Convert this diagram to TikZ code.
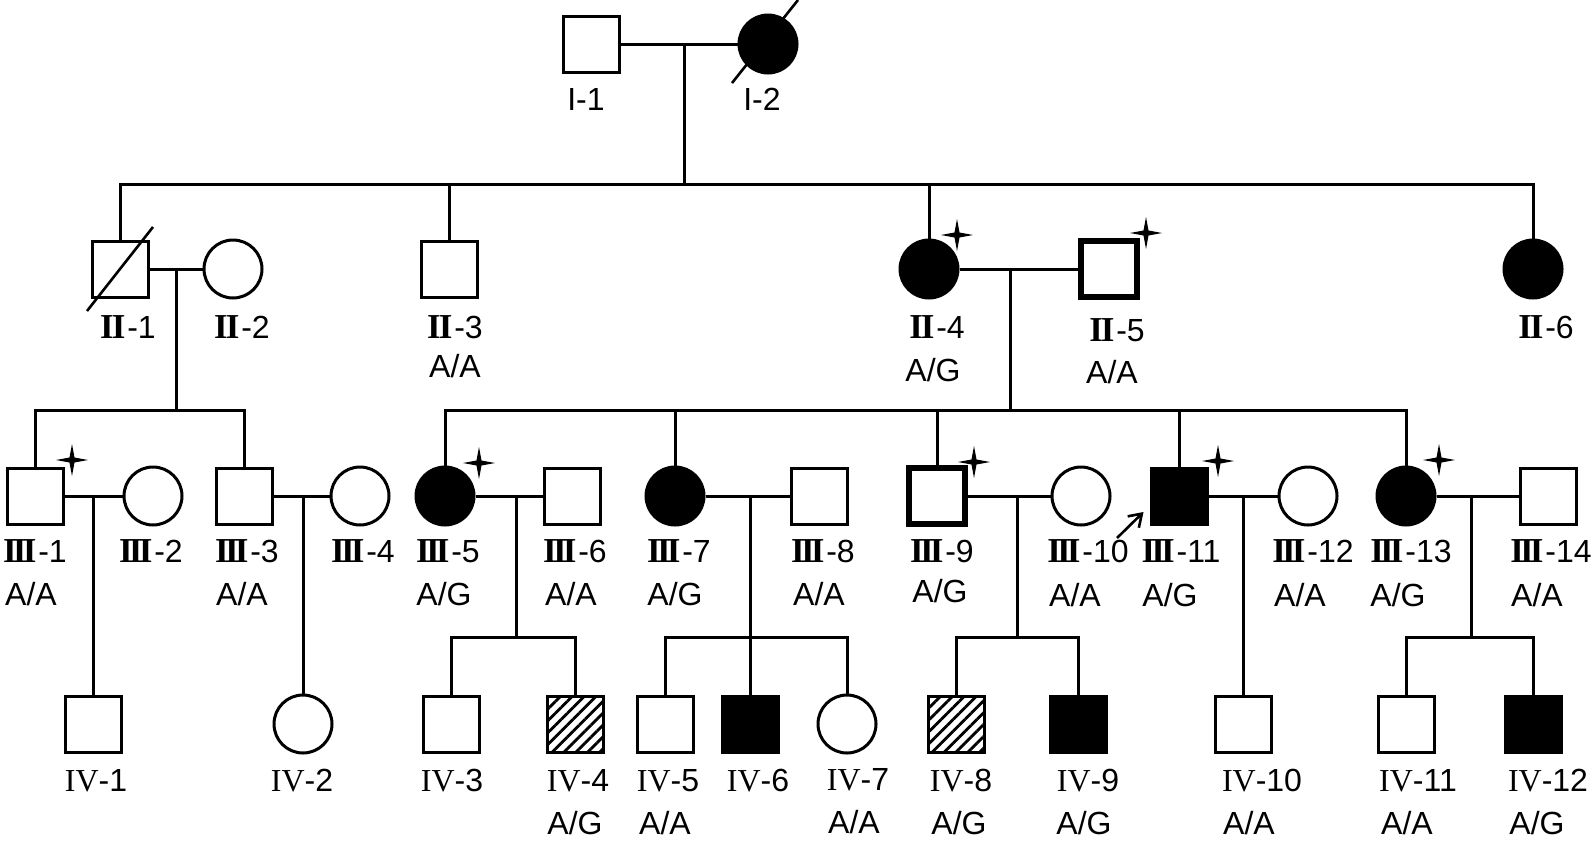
\documentclass[tikz,border=0pt]{standalone}
\usepackage{fontspec}
\setmainfont{Liberation Sans}
\newfontfamily\timesfont{Liberation Serif}
\usetikzlibrary{shapes.geometric,patterns.meta,arrows.meta}
\newcommand{\gII}{{\timesfont\bfseries\fontsize{17.5}{18}\selectfont I\kern-0.06em I}\kern0.06em}
\newcommand{\gIII}{{\timesfont\bfseries\fontsize{17.5}{18}\selectfont I\kern-0.11em I\kern-0.11em I}\kern0.06em}
\newcommand{\gIV}{{\timesfont IV}}

\begin{document}
\begin{tikzpicture}[x=0.5pt, y=-0.5pt, line width=1.5pt,
  male/.style={draw, rectangle, minimum size=28pt, inner sep=0pt},
  female/.style={draw, circle, minimum size=29pt, inner sep=0pt},
  affected/.style={fill=black},
  carrier/.style={pattern={Lines[angle=45, distance=4.2pt, line width=1.4pt]}},
  tested/.style={line width=2.6pt},
  mut/.style={star, star points=4, star point ratio=4.5, fill=black, inner sep=0pt, minimum size=16pt},
  lab/.style={font=\fontsize{16}{18}\selectfont, inner sep=0pt}]
\useasboundingbox (0,0) rectangle (1594,841);

% generation I
\node[male] (I1) at (591,44) {};
\node[female, affected] (I2) at (768,44) {};
\draw (I1) -- (I2);
\draw[line width=1.3pt] ([shift={(-36,39)}]I2.center) -- ([shift={(30,-44)}]I2.center);
\node[lab] (tI1) at (586,99) {I-1};
\node[lab] (tI2) at (762,99) {I-2};
\coordinate (m1) at (684,44);
\coordinate (s1) at (684,184);
\draw (m1) -- (s1);

% generation II
\node[male] (II1) at (120,269) {};
\node[female] (II2) at (233,269) {};
\node[male] (II3) at (449,269) {};
\node[female, affected] (II4) at (929,269) {};
\node[male, tested] (II5) at (1109,269) {};
\node[female, affected] (II6) at (1533,269) {};
\draw (II1) |- (s1) -| (II6);
\draw (s1) -| (II3);
\draw (s1) -| (II4);
\draw (II1) -- (II2);
\draw (II4) -- (II5);
\draw[line width=1.3pt] ([shift={(-33,42)}]II1.center) -- ([shift={(33,-42)}]II1.center);
\node[mut] (sII4) at (957,235) {};
\node[mut] (sII5) at (1146,233) {};
\node[lab] (tII1) at (128,327) {\gII-1};
\node[lab] (tII2) at (242,327) {\gII-2};
\node[lab] (tII3) at (455,327) {\gII-3};
\node[lab] (gII3) at (455,366) {A/A};
\node[lab] (tII4) at (937,327) {\gII-4};
\node[lab] (gII4) at (933,370) {A/G};
\node[lab] (tII5) at (1117,330) {\gII-5};
\node[lab] (gII5) at (1112,372) {A/A};
\node[lab] (tII6) at (1546,327) {\gII-6};
\coordinate (m2) at (176,269);
\coordinate (s2) at (176,410);
\draw (m2) -- (s2);
\coordinate (m3) at (1010,269);
\coordinate (s3) at (1010,410);
\draw (m3) -- (s3);

% generation III
\node[male] (III1) at (35,496) {};
\node[female] (III2) at (153,496) {};
\node[male] (III3) at (244,496) {};
\node[female] (III4) at (360,496) {};
\node[female, affected] (III5) at (445,496) {};
\node[male] (III6) at (572,496) {};
\node[female, affected] (III7) at (675,496) {};
\node[male] (III8) at (819,496) {};
\node[male, tested] (III9) at (937,496) {};
\node[female] (III10) at (1081,496) {};
\node[male, affected] (III11) at (1179,496) {};
\node[female] (III12) at (1308,496) {};
\node[female, affected] (III13) at (1406,496) {};
\node[male] (III14) at (1548,496) {};
\draw (III1) |- (s2) -| (III3);
\draw (III5) |- (s3) -| (III13);
\draw (s3) -| (III7);
\draw (s3) -| (III9);
\draw (s3) -| (III11);
\draw (III1) -- (III2);
\draw (III3) -- (III4);
\draw (III5) -- (III6);
\draw (III7) -- (III8);
\draw (III9) -- (III10);
\draw (III11) -- (III12);
\draw (III13) -- (III14);
\node[mut] (sIII1) at (72,460) {};
\node[mut] (sIII5) at (479,463) {};
\node[mut] (sIII9) at (974,462) {};
\node[mut] (sIII11) at (1218,461) {};
\node[mut] (sIII13) at (1439,460) {};
\coordinate (pb) at (1117,538);
\draw[-{Straight Barb[length=6pt, width=8pt]}, line width=1.3pt] (pb) -- ([shift={(-6,16)}]III11.west);
\node[lab] (tIII1) at (35,551) {\gIII-1};
\node[lab] (gIII1) at (31,594) {A/A};
\node[lab] (tIII2) at (151,551) {\gIII-2};
\node[lab] (tIII3) at (247,551) {\gIII-3};
\node[lab] (gIII3) at (242,594) {A/A};
\node[lab] (tIII4) at (363,551) {\gIII-4};
\node[lab] (tIII5) at (448,551) {\gIII-5};
\node[lab] (gIII5) at (444,594) {A/G};
\node[lab] (tIII6) at (575,551) {\gIII-6};
\node[lab] (gIII6) at (571,594) {A/A};
\node[lab] (tIII7) at (679,551) {\gIII-7};
\node[lab] (gIII7) at (675,594) {A/G};
\node[lab] (tIII8) at (823,551) {\gIII-8};
\node[lab] (gIII8) at (819,594) {A/A};
\node[lab] (tIII9) at (942,551) {\gIII-9};
\node[lab] (gIII9) at (940,591) {A/G};
\node[lab] (tIII10) at (1088,551) {\gIII-10};
\node[lab] (gIII10) at (1075,595) {A/A};
\node[lab] (tIII11) at (1181,551) {\gIII-11};
\node[lab] (gIII11) at (1170,595) {A/G};
\node[lab] (tIII12) at (1313,551) {\gIII-12};
\node[lab] (gIII12) at (1300,595) {A/A};
\node[lab] (tIII13) at (1411,551) {\gIII-13};
\node[lab] (gIII13) at (1398,595) {A/G};
\node[lab] (tIII14) at (1551,551) {\gIII-14};
\node[lab] (gIII14) at (1537,595) {A/A};
\coordinate (m4) at (93,496);
\coordinate (m5) at (303,496);
\coordinate (m6) at (516,496);
\coordinate (s6) at (516,637);
\coordinate (m7) at (750,496);
\coordinate (s7) at (750,637);
\coordinate (m8) at (1017,496);
\coordinate (s8) at (1017,637);
\coordinate (m9) at (1243,496);
\coordinate (m10) at (1471,496);
\coordinate (s10) at (1471,637);
\draw (m6) -- (s6);
\draw (m7) -- (s7);
\draw (m8) -- (s8);
\draw (m10) -- (s10);

% generation IV
\node[male] (IV1) at (93,724) {};
\node[female] (IV2) at (303,724) {};
\node[male] (IV3) at (451,724) {};
\node[male, carrier] (IV4) at (575,724) {};
\node[male] (IV5) at (665,724) {};
\node[male, affected] (IV6) at (750,724) {};
\node[female] (IV7) at (847,724) {};
\node[male, carrier] (IV8) at (956,724) {};
\node[male, affected] (IV9) at (1078,724) {};
\node[male] (IV10) at (1243,724) {};
\node[male] (IV11) at (1406,724) {};
\node[male, affected] (IV12) at (1533,724) {};
\draw (m4) -- (IV1);
\draw (m5) -- (IV2);
\draw (IV3) |- (s6) -| (IV4);
\draw (IV5) |- (s7) -| (IV7);
\draw (s7) -- (IV6);
\draw (IV8) |- (s8) -| (IV9);
\draw (m9) -- (IV10);
\draw (IV11) |- (s10) -| (IV12);
\node[lab] (tIV1) at (96,781) {\gIV-1};
\node[lab] (tIV2) at (302,781) {\gIV-2};
\node[lab] (tIV3) at (452,781) {\gIV-3};
\node[lab] (tIV4) at (578,781) {\gIV-4};
\node[lab] (gIV4) at (575,823) {A/G};
\node[lab] (tIV5) at (668,781) {\gIV-5};
\node[lab] (gIV5) at (665,823) {A/A};
\node[lab] (tIV6) at (758,781) {\gIV-6};
\node[lab] (tIV7) at (858,780) {\gIV-7};
\node[lab] (gIV7) at (854,822) {A/A};
\node[lab] (tIV8) at (961,781) {\gIV-8};
\node[lab] (gIV8) at (959,823) {A/G};
\node[lab] (tIV9) at (1088,781) {\gIV-9};
\node[lab] (gIV9) at (1084,823) {A/G};
\node[lab] (tIV10) at (1262,781) {\gIV-10};
\node[lab] (gIV10) at (1249,823) {A/A};
\node[lab] (tIV11) at (1418,781) {\gIV-11};
\node[lab] (gIV11) at (1407,823) {A/A};
\node[lab] (tIV12) at (1548,781) {\gIV-12};
\node[lab] (gIV12) at (1537,823) {A/G};
\end{tikzpicture}
\end{document}
